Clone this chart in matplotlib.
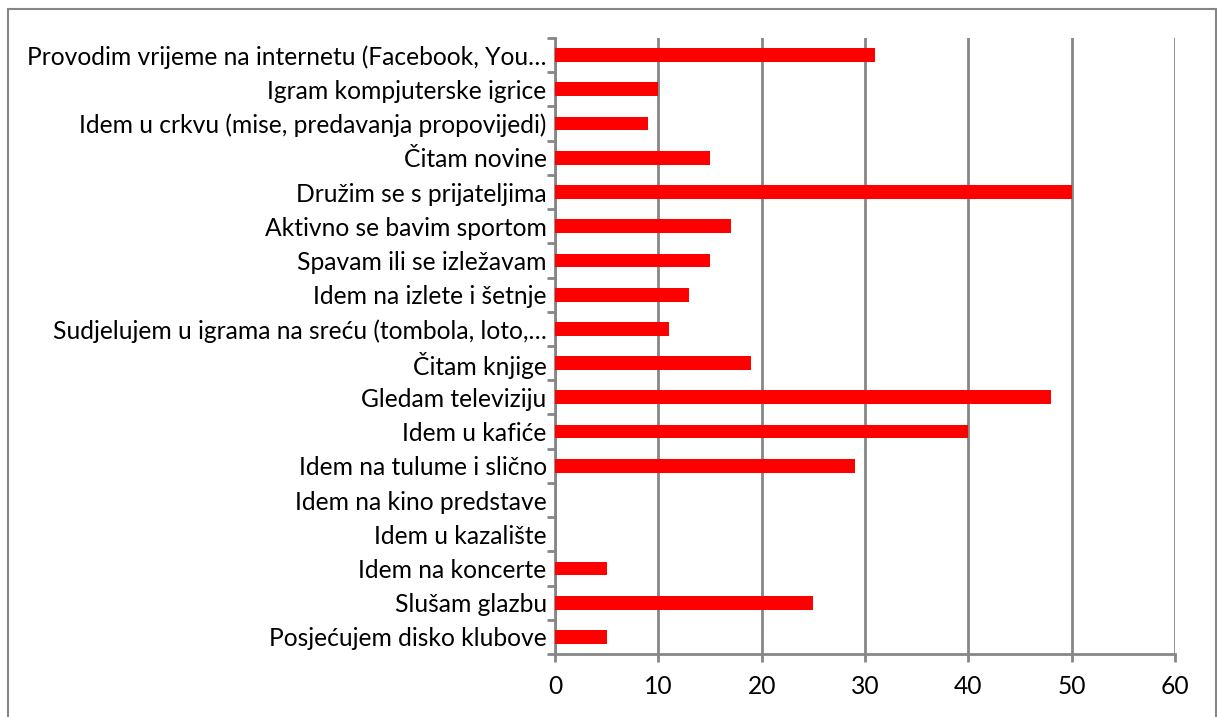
import matplotlib
matplotlib.use('Agg')
import matplotlib.pyplot as plt
from matplotlib.lines import Line2D

# --- data (top to bottom) ---
categories = [
    "Provodim vrijeme na internetu (Facebook, You…",
    "Igram kompjuterske igrice",
    "Idem u crkvu (mise, predavanja propovijedi)",
    "Čitam novine",
    "Družim se s prijateljima",
    "Aktivno se bavim sportom",
    "Spavam ili se izležavam",
    "Idem na izlete i šetnje",
    "Sudjelujem u igrama na sreću (tombola, loto,…",
    "Čitam knjige",
    "Gledam televiziju",
    "Idem u kafiće",
    "Idem na tulume i slično",
    "Idem na kino predstave",
    "Idem u kazalište",
    "Idem na koncerte",
    "Slušam glazbu",
    "Posjećujem disko klubove",
]
values = [31, 10, 9, 15, 50, 17, 15, 13, 11, 19, 48, 40, 29, 0, 0, 5, 25, 5]
x_ticks = [0, 10, 20, 30, 40, 50, 60]

GRID = '#868686'
plt.rcParams['font.family'] = ['Lato', 'DejaVu Sans']

fig = plt.figure(figsize=(12.17, 7.17), dpi=100)
ax = fig.add_axes([555 / 1217, 1 - 654 / 717, 620 / 1217, 616 / 717])

n = len(categories)
pos = list(range(n))[::-1]
ax.barh(pos, values, height=0.4, color='#ff0000', zorder=3)

ax.set_xlim(0, 60)
ax.set_ylim(-0.5, n - 0.5)
ax.set_xticks(x_ticks)
ax.set_yticks([p + 0.5 for p in pos] + [-0.5])
ax.set_yticklabels([])
ax.set_yticks(pos, minor=True)
ax.set_yticklabels(categories, minor=True)
ax.tick_params(axis='y', which='minor', length=0, pad=6, labelsize=17.7)
ax.tick_params(axis='y', which='major', length=6, width=2, color=GRID)
ax.tick_params(axis='x', length=6, width=2, color=GRID, labelsize=17.7, pad=9)

ax.grid(axis='x', color=GRID, linewidth=2, zorder=1)
for s in ['top', 'right']:
    ax.spines[s].set_visible(False)
for s in ['left', 'bottom']:
    ax.spines[s].set_color(GRID)
    ax.spines[s].set_linewidth(2)

# outer chart border
bx0, by0, bx1 = 8 / 1217, 1 - 9 / 717, 1216 / 1217
fig.add_artist(Line2D([bx0, bx1], [by0, by0], color=GRID, lw=1.5))
fig.add_artist(Line2D([bx0, bx0], [0, by0], color=GRID, lw=1.5))
fig.add_artist(Line2D([bx1, bx1], [0, by0], color=GRID, lw=1.5))

fig.savefig('out.png', dpi=100, facecolor='white')
